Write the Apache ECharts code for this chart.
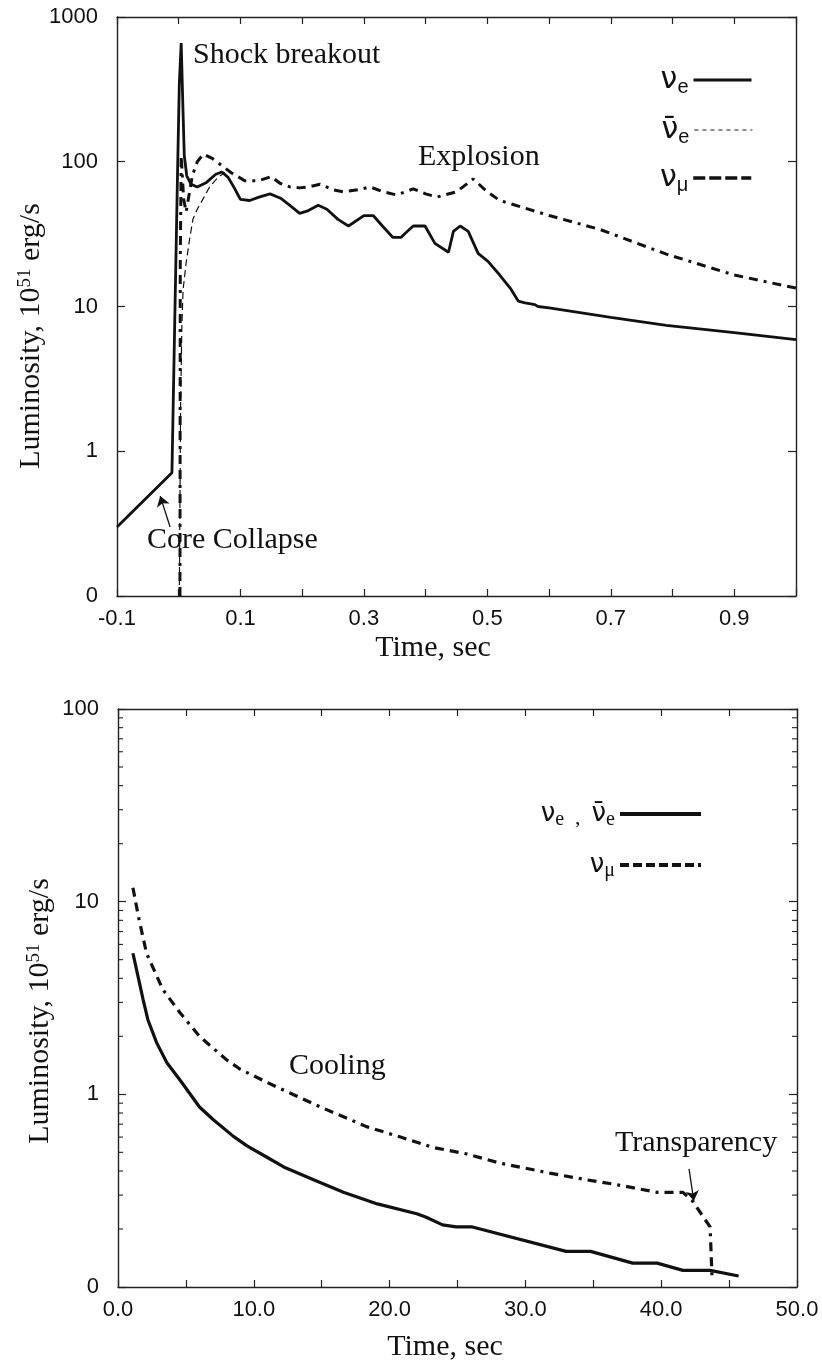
<!DOCTYPE html>
<html>
<head>
<meta charset="utf-8">
<script src="https://cdn.jsdelivr.net/npm/echarts@6/dist/echarts.min.js"></script>
<style>
  html, body { margin: 0; padding: 0; background: #ffffff; }
  #chart { width: 822px; height: 1364px; }
</style>
</head>
<body>
<div id="chart"></div>
<script>
// ---------- Collapse, bounce and explosion (time in s, luminosity in 1e51 erg/s) ----------
const tNuE = [-0.1, -0.011, -0.006, -0.002, 0.001, 0.004, 0.007, 0.009, 0.013, 0.020, 0.030, 0.045,
  0.060, 0.070, 0.080, 0.090, 0.097, 0.100, 0.115, 0.130, 0.148, 0.165, 0.180, 0.196, 0.210, 0.226,
  0.240, 0.258, 0.275, 0.300, 0.315, 0.330, 0.347, 0.360, 0.370, 0.380, 0.399, 0.415, 0.437, 0.445,
  0.456, 0.469, 0.485, 0.501, 0.520, 0.537, 0.550, 0.561, 0.577, 0.582, 0.600, 0.700, 0.790, 0.900, 1.000];
const lumNuE = [0.30, 0.71, 10, 80, 350, 660, 220, 110, 80, 70, 67, 72,
  82, 85, 78, 66, 58, 55, 54, 57, 60, 56, 50, 44, 46, 50,
  47, 40, 36, 42.5, 42.5, 36, 30, 30, 33, 36, 36, 27.3, 23.7, 33,
  36, 33, 23.3, 20.5, 16.5, 13.4, 10.9, 10.6, 10.3, 10, 9.8, 8.4, 7.4, 6.6, 5.9];

const tNuEbar = [0.001, 0.003, 0.005, 0.007, 0.012, 0.018, 0.023, 0.030, 0.037, 0.050, 0.060, 0.067, 0.075];
const lumNuEbar = [0.1, 2, 7, 13, 20, 30, 40, 47, 53, 67, 75, 80, 84];

const tNuMu = [0.002, 0.0025, 0.004, 0.008, 0.012, 0.017, 0.022, 0.030, 0.040, 0.055, 0.070, 0.085,
  0.107, 0.130, 0.150, 0.164, 0.180, 0.196, 0.210, 0.229, 0.250, 0.266, 0.290, 0.310, 0.331, 0.353,
  0.380, 0.400, 0.418, 0.450, 0.477, 0.500, 0.520, 0.600, 0.683, 0.790, 0.900, 1.000];
const lumNuMu = [0.1, 20, 110, 55, 45, 60, 80, 100, 113, 105, 94, 84,
  74, 74, 79, 71, 67, 66, 67, 70, 64, 62, 64, 67, 62, 59,
  65, 60, 57, 62, 76, 62, 54, 42.5, 34, 23, 16.5, 13.4];

// ---------- Cooling of the proto-neutron star ----------
const tCoolE = [1.1, 1.85, 2.2, 2.85, 3.6, 4.55, 6.0, 7.0, 8.5, 9.5, 11.0, 12.2, 14.4, 16.6, 19.1,
  22.0, 22.7, 23.9, 24.9, 26.1, 33.0, 34.8, 37.9, 39.7, 41.6, 43.6, 45.7];
const lumCoolE = [5.4, 3.1, 2.44, 1.85, 1.46, 1.19, 0.86, 0.74, 0.605, 0.54, 0.47, 0.42, 0.36, 0.31, 0.27,
  0.24, 0.23, 0.21, 0.205, 0.205, 0.153, 0.153, 0.133, 0.133, 0.122, 0.122, 0.114];

const tCoolMu = [1.1, 1.5, 2.1, 3.3, 4.57, 6.0, 8.0, 9.0, 11.7, 14.9, 18.3, 20.8, 23.2, 25.7, 28.1,
  31.8, 34.5, 36.7, 39.7, 41.6, 42.3, 43.6, 43.75];
const lumCoolMu = [11.8, 8.4, 5.4, 3.5, 2.65, 2.0, 1.51, 1.35, 1.09, 0.86, 0.68, 0.6, 0.53, 0.49, 0.44,
  0.39, 0.36, 0.34, 0.31, 0.31, 0.28, 0.205, 0.11];

// ---------- Tick labels ----------
const topYLabels = ['0', '1', '10', '100', '1000'];      // 0.1 ... 1000
const botYLabels = ['0', '1', '10', '100'];              // 0.1 ... 100
const topXLabels = ['-0.1', '0.1', '0.3', '0.5', '0.7', '0.9'];
const botXLabels = ['0.0', '10.0', '20.0', '30.0', '40.0', '50.0'];
// minor log ticks drawn on the cooling panel
const coolMinorTicks = [0.2, 0.3, 0.4, 0.5, 0.6, 0.7, 0.8, 0.9, 2, 3, 4, 5, 6, 7, 8, 9, 20, 30, 40, 50, 60, 70, 80, 90];

const pairs = (xs, ys) => xs.map((x, i) => [x, ys[i]]);

const INK = '#111';
const AXIS = '#222';
const SERIF = 'Liberation Serif';
const SANS = 'Liberation Sans';
const GREEK = 'DejaVu Sans';

function decadeLabel(list) {
  return v => {
    const k = Math.round(Math.log10(v)) + 1;
    return list[k] !== undefined ? list[k] : '';
  };
}
function pickLabel(list) {
  return v => {
    const s = (Math.abs(v) < 1e-9 ? 0 : v).toFixed(1);
    return list.indexOf(s) >= 0 ? s : '';
  };
}

const tickLabelStyle = { fontFamily: SANS, fontSize: 22, color: INK };

function mainX(gridIndex, min, max, interval, labels) {
  return {
    type: 'value', gridIndex, position: 'bottom', min, max, interval,
    axisLine: { show: true, onZero: false, lineStyle: { color: AXIS, width: 1.4 } },
    axisTick: { show: true, inside: true, length: 7, lineStyle: { color: AXIS, width: 1.2 } },
    axisLabel: Object.assign({ margin: 12, formatter: pickLabel(labels) }, tickLabelStyle),
    splitLine: { show: false }
  };
}
function mirrorX(gridIndex, min, max, interval) {
  return {
    type: 'value', gridIndex, position: 'top', min, max, interval,
    axisLine: { show: true, onZero: false, lineStyle: { color: AXIS, width: 1.4 } },
    axisTick: { show: true, inside: true, length: 7, lineStyle: { color: AXIS, width: 1.2 } },
    axisLabel: { show: false }, splitLine: { show: false }
  };
}
function mainY(gridIndex, max, splitNumber, labels) {
  return {
    type: 'log', logBase: 10, gridIndex, position: 'left', min: 0.1, max, splitNumber,
    axisLine: { show: true, onZero: false, lineStyle: { color: AXIS, width: 1.4 } },
    axisTick: { show: true, inside: true, length: 8, lineStyle: { color: AXIS, width: 1.2 } },
    axisLabel: Object.assign({ margin: 19, formatter: decadeLabel(labels) }, tickLabelStyle),
    splitLine: { show: false }, minorTick: { show: false }
  };
}
function mirrorY(gridIndex, max, splitNumber) {
  return {
    type: 'log', logBase: 10, gridIndex, position: 'right', min: 0.1, max, splitNumber,
    axisLine: { show: true, onZero: false, lineStyle: { color: AXIS, width: 1.4 } },
    axisTick: { show: true, inside: true, length: 8, lineStyle: { color: AXIS, width: 1.2 } },
    axisLabel: { show: false }, splitLine: { show: false }
  };
}

const nuRich = (nuSize, subSize, subFont, subPad) => ({
  nu: { fontFamily: GREEK, fontSize: nuSize, color: INK },
  sub: { fontFamily: subFont, fontSize: subSize, color: INK, padding: [subPad, 0, 0, 0] },
  sep: { fontFamily: SERIF, fontSize: 22, color: INK, padding: [8, 0, 0, 0] }
});
const legendText = {
  nuE: '{nu|\u03BD}{sub|e}',
  nuEbar: '{nu|\u03BD\u0304}{sub|e}',
  nuMu: '{nu|\u03BD}{sub|\u03BC}',
  coolE: '{nu|\u03BD}{sub|e}{sep|  ,  }{nu|\u03BD\u0304}{sub|e}',
  coolMu: '{nu|\u03BD}{sub|\u03BC}'
};
// legend entries show only the line sample, no marker
const noMarker = { color: 'rgba(0,0,0,0)', borderWidth: 0, opacity: 0 };
function oneLegend(name, right, top, width, rich, lineStyle) {
  return {
    data: [{ name, lineStyle, itemStyle: noMarker }],
    orient: 'vertical', align: 'right', right, top, padding: 0,
    itemWidth: width, itemHeight: 12, itemGap: 0, selectedMode: false,
    itemStyle: noMarker,
    formatter: n => legendText[n],
    textStyle: { rich }
  };
}

const muDash = [9, 6, 9, 6, 3, 6];

const chart = echarts.init(document.getElementById('chart'), null, { renderer: 'canvas' });

const option = {
  backgroundColor: '#ffffff',
  animation: false,
  grid: [
    { left: 117, top: 17, width: 679, height: 579 },
    { left: 118, top: 709, width: 679, height: 578 }
  ],
  xAxis: [
    mainX(0, -0.1, 1.0, 0.1, topXLabels),
    mirrorX(0, -0.1, 1.0, 0.1),
    mainX(1, 0, 50, 5, botXLabels),
    mirrorX(1, 0, 50, 5)
  ],
  yAxis: [
    mainY(0, 1000, 4, topYLabels),
    mirrorY(0, 1000, 4),
    mainY(1, 100, 3, botYLabels),
    mirrorY(1, 100, 3)
  ],
  legend: [
    oneLegend('nuE', 69, 65, 58, nuRich(30, 20, SANS, 15), { type: 'solid', width: 3, color: INK }),
    oneLegend('nuEbar', 69, 115, 58, nuRich(30, 20, SANS, 15), { type: [4, 4], width: 1.2, color: INK }),
    oneLegend('nuMu', 69, 163, 58, nuRich(30, 20, SANS, 15), { type: [12, 4], width: 3.5, color: INK }),
    oneLegend('coolE', 119, 801, 81, nuRich(26, 20, SERIF, 12), { type: 'solid', width: 4, color: INK }),
    oneLegend('coolMu', 119, 852, 81, nuRich(26, 20, SERIF, 12), { type: [9, 4], width: 4, color: INK })
  ],
  series: [
    {
      name: 'nuE', type: 'line', xAxisIndex: 0, yAxisIndex: 0, symbol: 'none',
      data: pairs(tNuE, lumNuE), color: INK,
      lineStyle: { color: INK, width: 2.8, type: 'solid' },
      markLine: {
        silent: true, symbol: ['none', 'arrow'], symbolSize: 10, animation: false,
        label: { show: false },
        lineStyle: { color: INK, width: 1.3, type: 'solid' },
        data: [[{ coord: [-0.014, 0.30] }, { coord: [-0.030, 0.49] }]]
      }
    },
    {
      name: 'nuEbar', type: 'line', xAxisIndex: 0, yAxisIndex: 0, symbol: 'none',
      data: pairs(tNuEbar, lumNuEbar), color: INK,
      lineStyle: { color: INK, width: 1.2, type: [7, 4] }
    },
    {
      name: 'nuMu', type: 'line', xAxisIndex: 0, yAxisIndex: 0, symbol: 'none',
      data: pairs(tNuMu, lumNuMu), color: INK,
      lineStyle: { color: INK, width: 3, type: muDash }
    },
    {
      name: 'coolE', type: 'line', xAxisIndex: 2, yAxisIndex: 2, symbol: 'none',
      data: pairs(tCoolE, lumCoolE), color: INK,
      lineStyle: { color: INK, width: 3.2, type: 'solid' }
    },
    {
      name: 'coolMu', type: 'line', xAxisIndex: 2, yAxisIndex: 2, symbol: 'none',
      data: pairs(tCoolMu, lumCoolMu), color: INK,
      lineStyle: { color: INK, width: 3.2, type: muDash },
      markLine: {
        silent: true, symbol: ['none', 'arrow'], symbolSize: 10, animation: false,
        label: { show: false },
        lineStyle: { color: INK, width: 1.3, type: 'solid' },
        data: [[{ coord: [42.05, 0.41] }, { coord: [42.4, 0.28] }]]
      }
    },
    {
      name: 'minorTicks', type: 'custom', xAxisIndex: 2, yAxisIndex: 2, silent: true, clip: false,
      data: coolMinorTicks.map(v => [0, v]),
      renderItem: (params, api) => {
        const y = api.coord([0, api.value(1)])[1];
        const cs = params.coordSys;
        const st = { stroke: AXIS, lineWidth: 1.1 };
        return {
          type: 'group', children: [
            { type: 'line', shape: { x1: cs.x, y1: y, x2: cs.x + 5, y2: y }, style: st },
            { type: 'line', shape: { x1: cs.x + cs.width - 5, y1: y, x2: cs.x + cs.width, y2: y }, style: st }
          ]
        };
      }
    }
  ],
  graphic: [
    // axis titles
    {
      type: 'text', x: 31, y: 336, rotation: Math.PI / 2,
      style: {
        text: '{t|Luminosity, 10}{s|51}{t| erg/s}', align: 'center', verticalAlign: 'middle',
        rich: { t: { fontFamily: SERIF, fontSize: 30, fill: INK }, s: { fontFamily: SERIF, fontSize: 19, fill: INK, padding: [0, 0, 12, 0] } }
      }
    },
    {
      type: 'text', x: 40, y: 1011, rotation: Math.PI / 2,
      style: {
        text: '{t|Luminosity, 10}{s|51}{t| erg/s}', align: 'center', verticalAlign: 'middle',
        rich: { t: { fontFamily: SERIF, fontSize: 30, fill: INK }, s: { fontFamily: SERIF, fontSize: 19, fill: INK, padding: [0, 0, 12, 0] } }
      }
    },
    { type: 'text', x: 433, y: 648, style: { text: 'Time, sec', font: '30px "Liberation Serif"', fill: INK, align: 'center', verticalAlign: 'middle' } },
    { type: 'text', x: 445, y: 1347, style: { text: 'Time, sec', font: '30px "Liberation Serif"', fill: INK, align: 'center', verticalAlign: 'middle' } },
    // phase annotations
    { type: 'text', x: 193, y: 55, style: { text: 'Shock breakout', font: '30px "Liberation Serif"', fill: INK, align: 'left', verticalAlign: 'middle' } },
    { type: 'text', x: 418, y: 157, style: { text: 'Explosion', font: '30px "Liberation Serif"', fill: INK, align: 'left', verticalAlign: 'middle' } },
    { type: 'text', x: 147, y: 540, style: { text: 'Core Collapse', font: '30px "Liberation Serif"', fill: INK, align: 'left', verticalAlign: 'middle' } },
    { type: 'text', x: 289, y: 1066, style: { text: 'Cooling', font: '30px "Liberation Serif"', fill: INK, align: 'left', verticalAlign: 'middle' } },
    { type: 'text', x: 615, y: 1143, style: { text: 'Transparency', font: '30px "Liberation Serif"', fill: INK, align: 'left', verticalAlign: 'middle' } }
  ]
};

chart.setOption(option);
</script>
</body>
</html>
